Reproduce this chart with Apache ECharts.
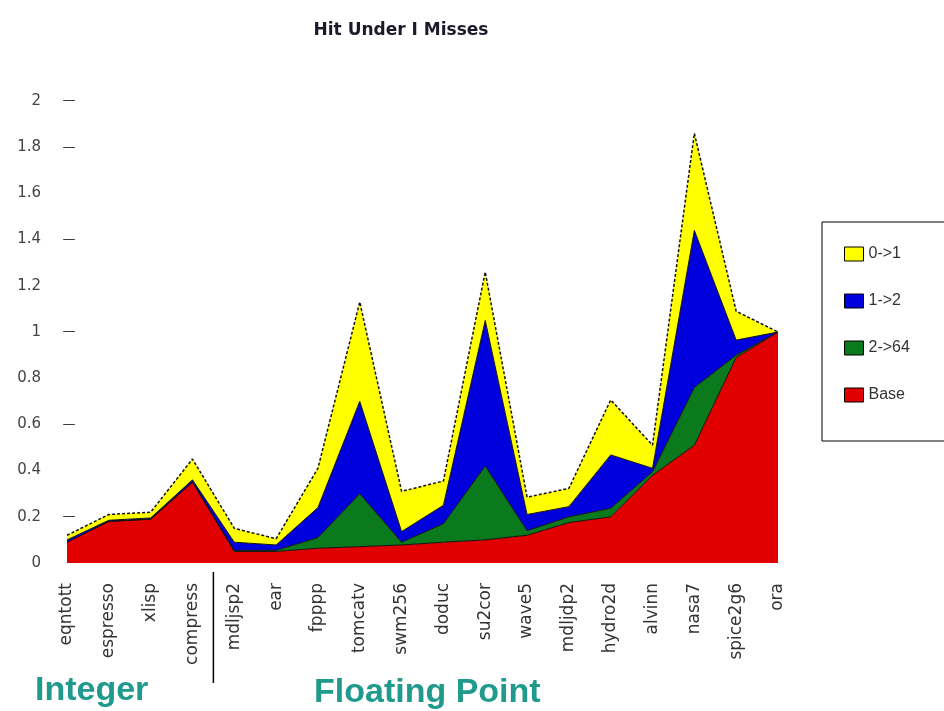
<!DOCTYPE html>
<html>
<head>
<meta charset="utf-8">
<script src="https://cdn.jsdelivr.net/npm/echarts@6/dist/echarts.min.js"></script>
<style>
html,body{margin:0;padding:0;background:#fff;}
#main{width:944px;height:711px;}
</style>
</head>
<body>
<div id="main"></div>
<script>
const categories = ['eqntott','espresso','xlisp','compress','mdljsp2','ear','fpppp','tomcatv','swm256','doduc','su2cor','wave5','mdljdp2','hydro2d','alvinn','nasa7','spice2g6','ora'];
const base  = [0.09,0.18,0.19,0.35,0.05,0.05,0.064,0.071,0.078,0.09,0.10,0.12,0.175,0.20,0.38,0.51,0.89,1.0];
const s2to64 = [0,0,0,0,0.005,0.005,0.046,0.229,0.012,0.08,0.32,0.02,0.025,0.037,0.015,0.25,0.01,0];
const s1to2 = [0.01,0.005,0.005,0.01,0.035,0.023,0.13,0.40,0.046,0.08,0.63,0.07,0.044,0.231,0.015,0.68,0.065,0];
const s0to1 = [0.02,0.025,0.025,0.09,0.06,0.027,0.17,0.43,0.174,0.105,0.21,0.075,0.079,0.238,0.10,0.42,0.125,0];
const seriesNames = ['Base','2->64','1->2','0->1'];
const legendOrder = ['0->1','1->2','2->64','Base'];
const dashTicks = [0.2,0.6,1,1.4,1.8,2];
const groupLabels = ['Integer','Floating Point'];

const colors = {'Base':'#e00000','2->64':'#0b7a1c','1->2':'#0000dc','0->1':'#ffff00'};
const dataMap = {'Base':base,'2->64':s2to64,'1->2':s1to2,'0->1':s0to1};

const chart = echarts.init(document.getElementById('main'), null, {renderer:'canvas'});

const series = seriesNames.map(function(n){
  const isTop = n === '0->1';
  return {
    name: n,
    type: 'line',
    stack: 'total',
    data: dataMap[n],
    symbol: 'none',
    showSymbol: false,
    color: colors[n],
    lineStyle: {color:'#111', width: isTop ? 1.5 : 1, type: isTop ? [3,2] : 'solid'},
    areaStyle: {color: colors[n], opacity: 1},
    emphasis: {disabled: true},
    animation: false
  };
});

const groupGraphics = [
  {type:'text', left: 35, top: 674, style:{text: groupLabels[0], fill:'#1f9a8c', font:'bold 34px "Liberation Sans"'}},
  {type:'text', left: 314, top: 676, style:{text: groupLabels[1], fill:'#1f9a8c', font:'bold 34px "Liberation Sans"'}}
];

const option = {
  animation: false,
  backgroundColor: '#fff',
  title: {
    text: 'Hit Under I Misses',
    left: 396, top: 17, textAlign: 'center',
    textStyle: {fontFamily:'DejaVu Sans', fontSize: 17, fontWeight: 'bold', color:'#1a1a2a'}
  },
  grid: {left: 67, right: 166, top: 101, bottom: 148, containLabel: false},
  legend: {
    data: legendOrder,
    orient: 'vertical',
    left: 822, top: 222,
    padding: [24, 60, 38, 22],
    itemGap: 31,
    itemWidth: 19, itemHeight: 14,
    icon: 'rect',
    borderColor: '#000', borderWidth: 1,
    itemStyle: {borderColor:'#000', borderWidth: 1},
    textStyle: {fontFamily:'Liberation Sans', fontSize: 16, color:'#333'},
    selectedMode: false
  },
  xAxis: {
    type: 'category',
    data: categories,
    boundaryGap: false,
    axisLine: {show: false},
    axisTick: {show: false},
    splitLine: {show: false},
    axisLabel: {interval: 0, rotate: 90, margin: 20, fontFamily:'DejaVu Sans', fontSize: 17, color:'#333'}
  },
  yAxis: [{
    type: 'value', min: 0, max: 2, interval: 0.2,
    axisLine: {show: false}, axisTick: {show: false}, splitLine: {show: false},
    axisLabel: {margin: 26, fontFamily:'DejaVu Sans', fontSize: 15, color:'#444',
      formatter: function(v){ return String(Math.round(v*10)/10); }}
  },{
    type: 'value', min: 0, max: 2, interval: 0.2, position: 'left',
    axisLine: {show: false}, axisTick: {show: false}, splitLine: {show: false},
    axisLabel: {margin: -2, align: 'center', fontFamily:'DejaVu Sans', fontSize: 13, color:'#222',
      formatter: function(v){
        return dashTicks.some(function(d){return Math.abs(d - v) < 1e-6;}) ? '\u2014' : '';
      }}
  }],
  series: series,
  graphic: groupGraphics
};
chart.setOption(option);

// separator between Integer and Floating Point groups
const x1 = chart.convertToPixel({xAxisIndex:0}, categories[3]);
const x2 = chart.convertToPixel({xAxisIndex:0}, categories[4]);
const sepX = (x1 + x2) / 2;
chart.setOption({
  graphic: groupGraphics.concat([
    {type:'line', shape:{x1: sepX, y1: 572, x2: sepX, y2: 683}, style:{stroke:'#000', lineWidth: 1.5}}
  ])
});
</script>
</body>
</html>
